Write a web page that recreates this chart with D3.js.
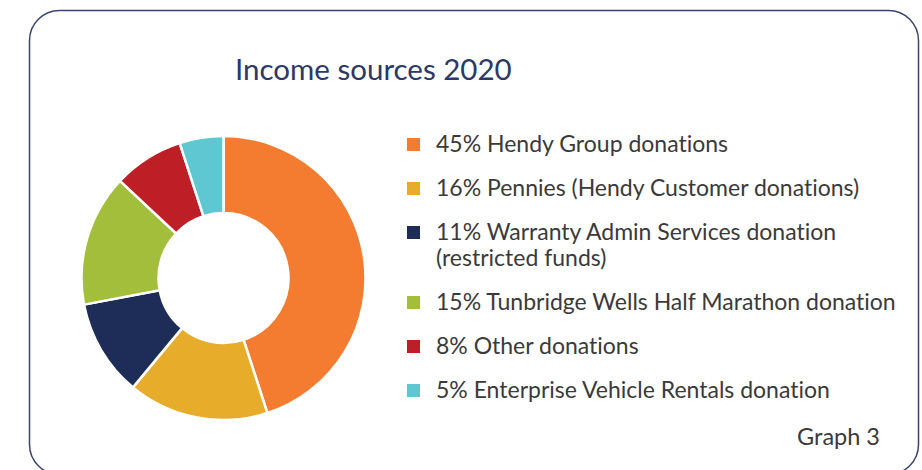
<!DOCTYPE html>
<html>
<head>
<meta charset="utf-8">
<script src="https://cdn.jsdelivr.net/npm/d3@7"></script>
<style>
  html, body { margin: 0; padding: 0; background: #fff; }
  svg { display: block; font-family: Lato, "Open Sans", sans-serif; font-variant-ligatures: none; }
</style>
</head>
<body>
<svg class="main-svg" width="922" height="470"></svg>
<script>
'use strict'

// data
const sources = [
  'Hendy Group donations',
  'Pennies (Hendy Customer donations)',
  'Warranty Admin Services donation (restricted funds)',
  'Tunbridge Wells Half Marathon donation',
  'Other donations',
  'Enterprise Vehicle Rentals donation'
]
const shares = [45, 16, 11, 15, 8, 5]
const colors = ['#f47c30', '#e8ac2b', '#1e2d58', '#a3be3b', '#be1e26', '#5ec7d1']

const title = 'Income sources 2020'
const footnote = 'Graph 3'

;(function (d3) {
  const svg = d3.select('.main-svg')

  // frame, bottom edge just below the crop
  svg.append('rect')
    .attr('x', 29.5).attr('y', 10.5)
    .attr('width', 889).attr('height', 464)
    .attr('rx', 30).attr('ry', 30)
    .attr('fill', 'none')
    .attr('stroke', '#3b4573')
    .attr('stroke-width', 1.5)

  svg.append('text')
    .attr('x', 235).attr('y', 80)
    .attr('fill', '#2c3868')
    .style('font-size', '29.5px')
    .text(title)

  // donut
  const center = { x: 223.5, y: 278 }
  const pie = d3.pie().sort(null).value(d => d)
  const arc = d3.arc().innerRadius(65).outerRadius(142)

  const g = svg.append('g').attr('transform', `translate(${center.x},${center.y})`)
  g.selectAll('path')
    .data(pie(shares))
    .join('path')
    .attr('d', arc)
    .attr('fill', (d, i) => colors[i])
    .attr('stroke', '#fff')
    .attr('stroke-width', 2.5)
    .attr('stroke-linejoin', 'round')

  // legend
  const legend = svg.append('g').attr('class', 'legend')
  const textX = 436
  const maxWidth = 470
  const lineH = 26
  let y = 152

  sources.forEach((name, i) => {
    const label = `${shares[i]}% ${name}`
    const item = legend.append('g')
    item.append('rect')
      .attr('x', 407).attr('y', y - 14)
      .attr('width', 13).attr('height', 13)
      .attr('fill', colors[i])

    const t = item.append('text')
      .attr('x', textX).attr('y', y)
      .attr('fill', '#3a3a3a')
      .style('font-size', '23px')

    // simple word wrap
    const words = label.split(' ')
    let line = []
    let tspan = t.append('tspan').attr('x', textX).attr('y', y)
    let lines = 1
    words.forEach(w => {
      line.push(w)
      tspan.text(line.join(' '))
      if (tspan.node().getComputedTextLength() > maxWidth && line.length > 1) {
        line.pop()
        tspan.text(line.join(' '))
        line = [w]
        tspan = t.append('tspan')
          .attr('x', textX)
          .attr('y', y + lines * lineH)
          .text(w)
        lines++
      }
    })
    y += 44 + (lines - 1) * lineH
  })

  svg.append('text')
    .attr('x', 880).attr('y', 445)
    .attr('text-anchor', 'end')
    .attr('fill', '#3a3a3a')
    .style('font-size', '23.5px')
    .text(footnote)
})(d3)
</script>
</body>
</html>
